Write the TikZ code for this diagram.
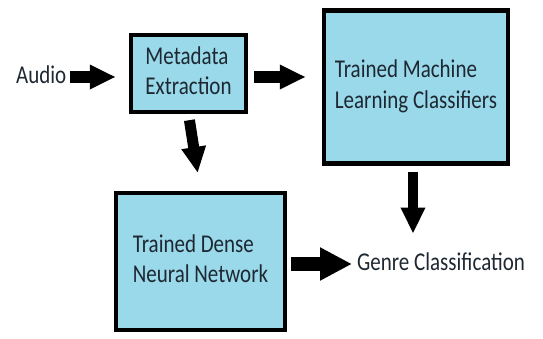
\documentclass[tikz,border=0pt]{standalone}
\usepackage{fontspec}
\setmainfont{Carlito}
\usetikzlibrary{arrows.meta}
\definecolor{boxfill}{HTML}{99D9EA}
\definecolor{txt}{HTML}{1E2832}
\newcommand{\tallt}[1]{\scalebox{1}[1.22]{\begin{tabular}{@{}l@{}}#1\end{tabular}}}
\tikzset{
  box/.style={draw=black, line width=4.5pt, fill=boxfill, text=txt,
    font=\fontsize{21}{25}\selectfont, inner sep=0pt},
  lbl/.style={text=txt, font=\fontsize{21}{25}\selectfont, inner sep=1pt},
  fat/.style={line width=12pt, -{Triangle[length=26pt, width=23pt]}}
}
\begin{document}
\begin{tikzpicture}[x=1pt, y=-1pt]
\useasboundingbox (0,0) rectangle (543,339);
\node[box, minimum width=115pt, minimum height=77pt] (meta) at (188.5,73.5) {\tallt{Metadata\\Extraction}};
\node[box, minimum width=184pt, minimum height=153pt] (ml) at (416,87) {\tallt{Trained Machine\\Learning Classifiers}};
\node[box, minimum width=169pt, minimum height=137pt] (dnn) at (200.5,261.5) {\tallt{Trained Dense\\Neural Network}};
\node[lbl, anchor=west] (audio) at (15,77) {\tallt{Audio}};
\node[lbl, anchor=west] (genre) at (356,264) {\tallt{Genre Classification}};
\draw[fat, shorten <=2pt, shorten >=13pt] (audio.east) -- (meta.west |- audio);
\draw[fat, shorten <=6pt, shorten >=16pt] (meta.east |- audio) -- (ml.west |- audio);
\draw[fat, line width=11pt, shorten <=6pt, shorten >=18pt] (meta.south) -- (dnn.north);
\draw[fat, line width=10pt, shorten <=6pt, shorten >=14pt] ([xshift=-3pt]ml.south) -- ([xshift=-3pt]ml.south |- genre.north);
\draw[fat, line width=14pt, -{Triangle[length=32pt, width=31pt]}, shorten <=4pt, shorten >=4pt] (dnn.east |- genre) -- (genre.west);
\end{tikzpicture}
\end{document}
